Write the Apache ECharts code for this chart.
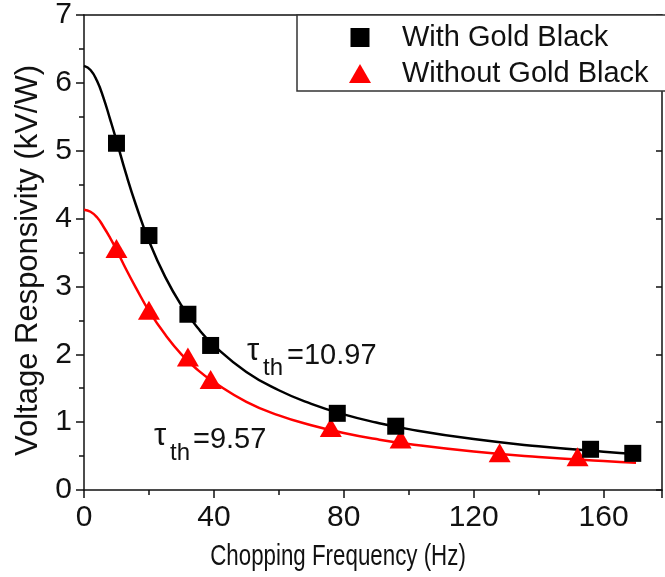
<!DOCTYPE html>
<html>
<head>
<meta charset="utf-8">
<script src="https://cdn.jsdelivr.net/npm/echarts@6/dist/echarts.min.js"></script>
<style>
html,body{margin:0;padding:0;background:#fff;}
#c{width:665px;height:577px;}
</style>
</head>
<body>
<div id="c"></div>
<script>
// measured points
var freqBlack = [10, 20, 32, 39, 78, 96, 156, 169];
var respBlack = [5.11, 3.75, 2.59, 2.13, 1.13, 0.94, 0.60, 0.54];
var freqRed = [10, 20, 32, 39, 76, 97.5, 128, 152];
var respRed = [3.56, 2.65, 1.96, 1.63, 0.92, 0.75, 0.55, 0.49];
// fitted curves
var fitFreqBlack = [0, 2, 4, 6, 8, 10, 13, 16, 20, 25, 30, 35, 40, 50, 60, 70, 80, 90, 100, 120, 140, 160, 170];
var fitRespBlack = [6.25, 6.19, 6.03, 5.78, 5.47, 5.15, 4.65, 4.20, 3.67, 3.14, 2.72, 2.39, 2.13, 1.74, 1.47, 1.27, 1.115, 0.995, 0.897, 0.750, 0.644, 0.564, 0.531];
var fitFreqRed = [0, 2, 4, 6, 8, 10, 13, 16, 20, 25, 30, 35, 40, 50, 60, 70, 80, 90, 100, 120, 140, 160, 170];
var fitRespRed = [4.13, 4.10, 4.02, 3.88, 3.72, 3.54, 3.25, 2.98, 2.64, 2.29, 2.00, 1.77, 1.59, 1.30, 1.10, 0.955, 0.841, 0.750, 0.678, 0.567, 0.487, 0.427, 0.402];
var xTicks = [0, 40, 80, 120, 160];
var yTicks = [0, 1, 2, 3, 4, 5, 6, 7];
var seriesNames = ['With Gold Black', 'Without Gold Black'];
var xTitle = 'Chopping Frequency (Hz)';
var yTitle = 'Voltage Responsivity (kV/W)';
var annotBlack = {sym: 'τ', sub: 'th', val: '=10.97'};
var annotRed = {sym: 'τ', sub: 'th', val: '=9.57'};

function zip(a, b) { return a.map(function (v, i) { return [v, b[i]]; }); }

var FONT = '"Liberation Sans", Arial, sans-serif';
var chart = echarts.init(document.getElementById('c'), null, {renderer: 'canvas'});
var option = {
  animation: false,
  backgroundColor: '#fff',
  textStyle: {fontFamily: FONT},
  grid: {left: 84, top: 14, right: -2, bottom: 87, containLabel: false},
  xAxis: [{
    type: 'value', min: 0, max: 178, interval: 40,
    axisLine: {show: true, lineStyle: {color: '#111', width: 1.5}},
    axisTick: {show: true, inside: false, length: 8, lineStyle: {color: '#111', width: 1.5}},
    minorTick: {show: true, splitNumber: 2, length: 5, lineStyle: {color: '#111', width: 1.5}},
    axisLabel: {fontSize: 30, color: '#111', margin: 13, fontFamily: FONT,
      formatter: function (v) { return xTicks.indexOf(v) >= 0 ? String(v) : ''; }},
    splitLine: {show: false}
  }, {
    type: 'value', min: 0, max: 178, position: 'top',
    axisLine: {show: true, onZero: false, lineStyle: {color: '#111', width: 1.5}},
    axisTick: {show: false}, axisLabel: {show: false}, splitLine: {show: false}
  }],
  yAxis: [{
    type: 'value', min: 0, max: 7, interval: 1,
    name: yTitle, nameLocation: 'middle', nameGap: 39, nameRotate: 90,
    nameTextStyle: {fontSize: 31, color: '#111', fontFamily: FONT, padding: [0, 16, 0, 0]},
    axisLine: {show: true, lineStyle: {color: '#111', width: 1.5}},
    axisTick: {show: true, inside: false, length: 8, lineStyle: {color: '#111', width: 1.5}},
    minorTick: {show: true, splitNumber: 2, length: 5, lineStyle: {color: '#111', width: 1.5}},
    axisLabel: {fontSize: 30, color: '#111', margin: 12, fontFamily: FONT,
      formatter: function (v) { return yTicks.indexOf(v) >= 0 ? String(v) : ''; }},
    splitLine: {show: false}
  }, {
    type: 'value', min: 0, max: 7, interval: 1, position: 'right',
    axisLine: {show: true, onZero: false, lineStyle: {color: '#111', width: 1.5}},
    axisTick: {show: true, inside: true, length: 6, lineStyle: {color: '#111', width: 1.5}},
    axisLabel: {show: false}, splitLine: {show: false}
  }],
  legend: {
    orient: 'vertical', left: 297, top: 15,
    padding: [8, 60, 3, 52],
    itemGap: 7,
    backgroundColor: '#fff', borderColor: '#333', borderWidth: 1.5,
    itemWidth: 22, itemHeight: 19,
    textStyle: {fontSize: 29, color: '#111', fontFamily: FONT, padding: [0, 0, 0, 26]},
    data: [
      {name: seriesNames[0], icon: 'path://M0,0 L17,0 L17,17 L0,17 Z'},
      {name: seriesNames[1], icon: 'triangle'}
    ]
  },
  series: [
    {
      name: seriesNames[0] + ' fit', type: 'line', smooth: true, showSymbol: false, symbol: 'none',
      data: zip(fitFreqBlack, fitRespBlack), lineStyle: {color: '#000', width: 2.5}, z: 2
    },
    {
      name: seriesNames[1] + ' fit', type: 'line', smooth: true, showSymbol: false, symbol: 'none',
      data: zip(fitFreqRed, fitRespRed), lineStyle: {color: '#f00', width: 2.5}, z: 2
    },
    {
      name: seriesNames[0], type: 'scatter', symbol: 'rect', symbolSize: 17,
      itemStyle: {color: '#000', opacity: 1}, data: zip(freqBlack, respBlack), z: 4
    },
    {
      name: seriesNames[1], type: 'scatter', symbol: 'triangle', symbolSize: [22, 19],
      itemStyle: {color: '#f00', opacity: 1}, data: zip(freqRed, respRed), z: 3
    }
  ],
  graphic: [
    {type: 'text', x: 338, y: 557, scaleX: 0.77, originX: 0, originY: 0,
      style: {text: xTitle, font: '29px ' + FONT, fill: '#111', align: 'center', verticalAlign: 'middle'}},
    {type: 'text', left: 247, top: 336, style: {text: annotBlack.sym, font: '31px ' + FONT, fill: '#111'}},
    {type: 'text', left: 263, top: 356, style: {text: annotBlack.sub, font: '24px ' + FONT, fill: '#111'}},
    {type: 'text', left: 287, top: 341, style: {text: annotBlack.val, font: '29px ' + FONT, fill: '#111'}},
    {type: 'text', left: 154, top: 421, style: {text: annotRed.sym, font: '31px ' + FONT, fill: '#111'}},
    {type: 'text', left: 170, top: 441, style: {text: annotRed.sub, font: '24px ' + FONT, fill: '#111'}},
    {type: 'text', left: 193, top: 425, style: {text: annotRed.val, font: '29px ' + FONT, fill: '#111'}}
  ]
};
chart.setOption(option);
</script>
</body>
</html>
